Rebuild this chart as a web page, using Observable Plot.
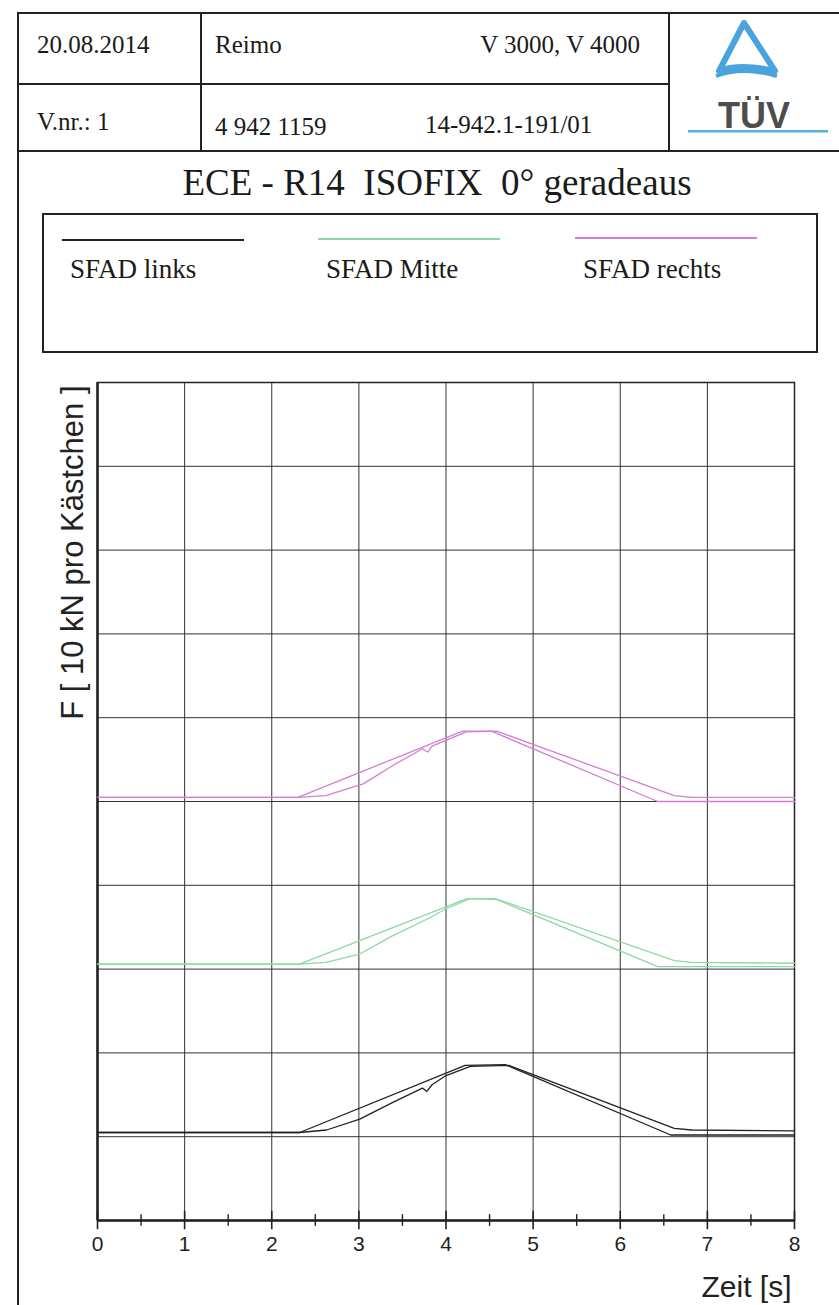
<!DOCTYPE html>
<html>
<head>
<meta charset="utf-8">
<script src="https://cdn.jsdelivr.net/npm/d3@7"></script>
<script src="https://cdn.jsdelivr.net/npm/@observablehq/plot@0.6"></script>
<style>
  html, body { margin: 0; padding: 0; background: #fff; }
  #page { position: relative; width: 839px; height: 1305px; overflow: hidden; background: #fff; }
  .ln { position: absolute; background: #222; }
  .serif { position: absolute; font-family: "Liberation Serif", "Times New Roman", serif; color: #1a1a1a; white-space: nowrap; line-height: 1.15; }
  #chart { position: absolute; left: 0; top: 360px; }
</style>
</head>
<body>
<div id="page">
  <!-- header table -->
  <div class="ln" style="left:17px; top:12px; width:822px; height:2px;"></div>
  <div class="ln" style="left:17px; top:12px; width:2px; height:1293px;"></div>
  <div class="ln" style="left:17px; top:83px; width:651px; height:1.5px;"></div>
  <div class="ln" style="left:17px; top:150px; width:822px; height:1.5px;"></div>
  <div class="ln" style="left:200px; top:12px; width:1.5px; height:139px;"></div>
  <div class="ln" style="left:668px; top:12px; width:1.5px; height:139px;"></div>

  <div class="serif" id="h1" style="left:37px; top:31px; font-size:25px;"></div>
  <div class="serif" id="h2" style="left:215px; top:31px; font-size:25px;"></div>
  <div class="serif" id="h3" style="right:199px; top:31px; font-size:25px;"></div>
  <div class="serif" id="h4" style="left:37px; top:108px; font-size:25px;"></div>
  <div class="serif" id="h5" style="left:215px; top:113px; font-size:25px;"></div>
  <div class="serif" id="h6" style="left:425px; top:111px; font-size:25px;"></div>

  <!-- TÜV logo -->
  <svg style="position:absolute; left:680px; top:14px;" width="159" height="125">
    <path d="M64,9 L39,57 Q60,49 95,57 Z" fill="none" stroke="#4aa3dc" stroke-width="6" stroke-linejoin="round"/>
    <path d="M36,62 Q62,52 97,62" fill="none" stroke="#4aa3dc" stroke-width="4"/>
    <text x="74" y="114" text-anchor="middle" font-family="Liberation Sans, Arial, sans-serif" font-weight="bold" font-size="36" fill="#4d4d4d">TÜV</text>
    <rect x="8" y="116" width="140" height="2.5" fill="#5aaee0"/>
  </svg>

  <div class="serif" id="title" style="left:0; width:874px; text-align:center; top:162px; font-size:37px;"></div>

  <!-- legend box -->
  <div style="position:absolute; left:42px; top:213px; width:772px; height:136px; border:2px solid #222;"></div>
  <div id="legend"></div>

  <div id="chart"></div>
</div>
<script>
// ---------- header texts ----------
const headerRow1 = ["20.08.2014", "Reimo", "V 3000, V 4000"];
const headerRow2 = ["V.nr.: 1", "4 942 1159", "14-942.1-191/01"];
const titleText = "ECE - R14\u00a0\u00a0ISOFIX\u00a0\u00a00° geradeaus";

// ---------- series names / colours ----------
const seriesNames = ["SFAD links", "SFAD Mitte", "SFAD rechts"];
const seriesColors = ["#222222", "#8cd8a6", "#d27fd2"];

// ---------- axis ticks ----------
const xMajorTicks = [0, 1, 2, 3, 4, 5, 6, 7, 8];
const xMinorTicks = [0.5, 1.5, 2.5, 3.5, 4.5, 5.5, 6.5, 7.5];
const yGridTicks = [0, 1, 2, 3, 4, 5, 6, 7, 8, 9, 10];
const xLabel = "Zeit [s]";
const yLabel = "F [ 10 kN pro Kästchen ]";

// ---------- data (Zeit in s, F in Kästchen) ----------
// SFAD links
const linksA_t = [0, 2.32, 4.22, 4.68, 6.58, 8];
const linksA_F = [1.05, 1.05, 1.85, 1.86, 1.02, 1.02];
const linksB_t = [0, 2.32, 2.63, 3.01, 3.39, 3.73, 3.78, 3.84, 4.0, 4.28, 4.72, 6.62, 6.82, 8];
const linksB_F = [1.05, 1.05, 1.08, 1.21, 1.41, 1.58, 1.54, 1.62, 1.73, 1.84, 1.85, 1.10, 1.08, 1.07];
// SFAD Mitte
const mitteA_t = [0, 2.32, 4.24, 4.56, 6.43, 8];
const mitteA_F = [3.06, 3.06, 3.84, 3.84, 3.03, 3.03];
const mitteB_t = [0, 2.32, 2.62, 3.01, 3.39, 3.81, 4.0, 4.28, 4.6, 6.62, 6.82, 8];
const mitteB_F = [3.06, 3.06, 3.08, 3.18, 3.40, 3.61, 3.72, 3.84, 3.83, 3.10, 3.08, 3.07];
// SFAD rechts
const rechtsA_t = [0, 2.30, 4.19, 4.52, 6.43, 8];
const rechtsA_F = [5.05, 5.05, 5.84, 5.84, 5.00, 5.00];
const rechtsB_t = [0, 2.30, 2.62, 3.05, 3.39, 3.73, 3.79, 3.84, 4.0, 4.23, 4.58, 6.62, 6.82, 8];
const rechtsB_F = [5.05, 5.05, 5.07, 5.21, 5.43, 5.63, 5.59, 5.66, 5.73, 5.83, 5.84, 5.07, 5.05, 5.05];

// ---------- build table ----------
const runs = [
  [seriesNames[0], "A", linksA_t, linksA_F],
  [seriesNames[0], "B", linksB_t, linksB_F],
  [seriesNames[1], "A", mitteA_t, mitteA_F],
  [seriesNames[1], "B", mitteB_t, mitteB_F],
  [seriesNames[2], "A", rechtsA_t, rechtsA_F],
  [seriesNames[2], "B", rechtsB_t, rechtsB_F]
];
const rows = runs.flatMap(([name, run, ts, fs]) =>
  ts.map((t, i) => ({series: name, run: name + run, t, F: fs[i]})));

// ---------- header ----------
["h1","h2","h3"].forEach((id, i) => document.getElementById(id).textContent = headerRow1[i]);
["h4","h5","h6"].forEach((id, i) => document.getElementById(id).textContent = headerRow2[i]);
document.getElementById("title").textContent = titleText;

// ---------- legend ----------
const legend = document.getElementById("legend");
const legendX = [62, 318, 575];
seriesNames.forEach((name, i) => {
  const line = document.createElement("div");
  line.style.cssText = `position:absolute; left:${legendX[i]}px; top:${239 - i}px; width:182px; height:1.5px; background:${seriesColors[i]};`;
  legend.appendChild(line);
  const lab = document.createElement("div");
  lab.className = "serif";
  lab.style.cssText = `left:${legendX[i] + 8}px; top:254px; font-size:27px;`;
  lab.textContent = name;
  legend.appendChild(lab);
});

// ---------- chart ----------
const font = "Liberation Sans, Arial, sans-serif";
const chart = Plot.plot({
  width: 839,
  height: 945,
  marginTop: 22,
  marginBottom: 85,
  marginLeft: 97,
  marginRight: 45,
  style: {background: "transparent", fontFamily: font, color: "#222"},
  x: {domain: [0, 8], axis: null},
  y: {domain: [0, 10], axis: null},
  color: {domain: seriesNames, range: seriesColors},
  marks: [
    Plot.gridX(xMajorTicks, {stroke: "#333", strokeOpacity: 1, strokeWidth: 1}),
    Plot.gridY(yGridTicks, {stroke: "#333", strokeOpacity: 1, strokeWidth: 1}),
    Plot.frame({stroke: "#222", strokeWidth: 1.5}),
    Plot.ruleX([0], {stroke: "#222", strokeWidth: 2.5}),
    Plot.ruleY([0], {stroke: "#222", strokeWidth: 2.5}),
    Plot.ruleX(xMajorTicks, {x: d => d, y1: -0.11, y2: 0.11, stroke: "#222", strokeWidth: 1.6}),
    Plot.ruleX(xMinorTicks, {x: d => d, y1: -0.07, y2: 0.07, stroke: "#222", strokeWidth: 1.4}),
    Plot.axisX(xMajorTicks, {tickSize: 0, tickPadding: 16, fontSize: 21, fill: "#222", label: null}),
    Plot.line(rows, {x: "t", y: "F", z: "run", stroke: "series", strokeWidth: 1.3}),
    Plot.text([yLabel], {frameAnchor: "top-left", rotate: -90, textAnchor: "end", dx: -37, dy: 3, fontSize: 31, fill: "#222"}),
    Plot.text([xLabel], {frameAnchor: "bottom-right", textAnchor: "end", dx: -3, dy: 76, fontSize: 30, fill: "#222"})
  ]
});
document.getElementById("chart").appendChild(chart);
</script>
</body>
</html>
